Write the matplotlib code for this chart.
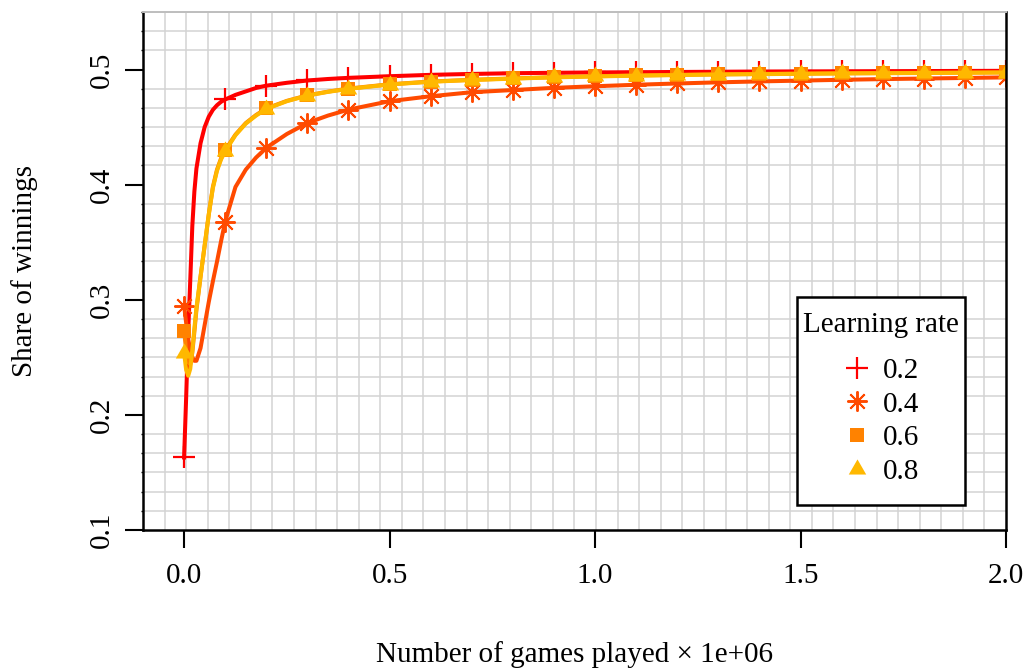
import numpy as np
import matplotlib
matplotlib.use("Agg")
import matplotlib.pyplot as plt
from matplotlib.lines import Line2D
from matplotlib.patches import Rectangle

plt.rcParams["font.family"] = ["Liberation Serif", "DejaVu Serif"]

# Number of games played (millions)
games = [0.0, 0.005, 0.01, 0.015, 0.02, 0.025, 0.03, 0.04, 0.05, 0.06, 0.07,
         0.08, 0.09, 0.1, 0.125, 0.15, 0.175, 0.2, 0.25, 0.3, 0.35, 0.4,
         0.5, 0.6, 0.7, 0.8, 0.9, 1.0, 1.1, 1.2, 1.3, 1.4, 1.5, 1.6, 1.7,
         1.8, 1.9, 2.0]

# Share of winnings for each learning rate
share_02 = [0.163, 0.215, 0.272, 0.317, 0.364, 0.394, 0.414, 0.436, 0.450,
            0.459, 0.465, 0.469, 0.472, 0.474, 0.478, 0.481, 0.484, 0.486,
            0.4885, 0.4905, 0.4918, 0.4928, 0.4942, 0.4954, 0.4962, 0.4968,
            0.4972, 0.4975, 0.4977, 0.4979, 0.4981, 0.4983, 0.4984, 0.4985,
            0.4986, 0.4987, 0.4988, 0.4989]
share_04 = [0.295, 0.280, 0.266, 0.256, 0.250, 0.247, 0.247, 0.258, 0.278,
            0.298, 0.316, 0.333, 0.351, 0.368, 0.398, 0.413, 0.4235, 0.432,
            0.444, 0.4536, 0.460, 0.4652, 0.4725, 0.4768, 0.4803, 0.4822,
            0.4841, 0.4855, 0.4868, 0.4879, 0.4889, 0.4897, 0.4904, 0.4911,
            0.4917, 0.4922, 0.4927, 0.4932]
share_06 = [0.273, 0.256, 0.246, 0.244, 0.254, 0.272, 0.291, 0.320, 0.347,
            0.374, 0.398, 0.413, 0.423, 0.430, 0.4435, 0.4535, 0.4605,
            0.4662, 0.4728, 0.4776, 0.4808, 0.4835, 0.4872, 0.4896, 0.4911,
            0.4923, 0.4934, 0.4942, 0.4949, 0.4954, 0.4959, 0.4962, 0.4965,
            0.4968, 0.4970, 0.4972, 0.4974, 0.4976]
share_08 = [0.254, 0.239, 0.234, 0.240, 0.256, 0.275, 0.293, 0.320, 0.347,
            0.374, 0.397, 0.412, 0.422, 0.429, 0.443, 0.453, 0.460, 0.4658,
            0.4725, 0.4774, 0.4806, 0.4832, 0.4870, 0.4894, 0.4909, 0.4921,
            0.4932, 0.4940, 0.4947, 0.4952, 0.4957, 0.4960, 0.4963, 0.4966,
            0.4968, 0.4970, 0.4972, 0.4974]

rates = ["0.2", "0.4", "0.6", "0.8"]
colors = ["#FF0000", "#FF4A00", "#FF8200", "#FFB800"]

x_ticks = [0.0, 0.5, 1.0, 1.5, 2.0]
y_ticks = [0.1, 0.2, 0.3, 0.4, 0.5]

FS = 21

# R-like plotting symbols: plus, asterisk, filled square, filled triangle
tri = [(0.0, 1.555), (1.347, -0.778), (-1.347, -0.778), (0.0, 1.555)]
symbols = [
    dict(marker="+", markersize=15.5, markeredgewidth=1.6),
    dict(marker=(8, 2, 0), markersize=14.5, markeredgewidth=1.4),
    dict(marker="s", markersize=9.5, markeredgewidth=0),
    dict(marker=tri, markersize=14.5, markeredgewidth=0),
]

W, H = 1030, 672
fig = plt.figure(figsize=(W / 100, H / 100), dpi=100)
ax = fig.add_axes([143 / W, 1 - 530 / H, (1006 - 143) / W, (530 - 12) / H])

xlim = (-0.1, 2.0)
ylim = (0.1, 0.55)
ax.set_xlim(*xlim)
ax.set_ylim(*ylim)

# fine background grid
ax.set_xticks(np.linspace(xlim[0], xlim[1], 41), minor=True)
ax.set_yticks(np.linspace(ylim[0], ylim[1], 28), minor=True)
ax.grid(which="minor", color="#D3D3D3", linewidth=1.1)
ax.grid(which="major", visible=False)
ax.set_axisbelow(True)

mark_idx = [i for i, g in enumerate(games) if abs(g * 10 - round(g * 10)) < 1e-9]

series = [share_02, share_04, share_06, share_08]
for vals, col, sym in zip(series, colors, symbols):
    ax.plot(games, vals, color=col, linewidth=2.9, markevery=mark_idx,
            markerfacecolor=col, markeredgecolor=col, solid_joinstyle="round",
            **sym)

ax.set_xticks(x_ticks)
ax.set_xticklabels([f"{v:.1f}" for v in x_ticks])
ax.set_yticks(y_ticks)
ax.set_yticklabels([f"{v:.1f}" for v in y_ticks], rotation=90, va="center")

ax.tick_params(which="major", direction="out", length=13, width=1.5,
               labelsize=FS, color="black")
ax.tick_params(axis="x", which="major", pad=11)
ax.tick_params(axis="y", which="major", pad=7)
ax.tick_params(axis="x", which="minor", length=0)
ax.tick_params(axis="y", which="minor", length=1.5, width=1.0)

for side in ["left", "bottom", "right"]:
    ax.spines[side].set_linewidth(1.8)
    ax.spines[side].set_color("black")
ax.spines["top"].set_color("#BEBEBE")
ax.spines["top"].set_linewidth(1.4)

fig.text(575 / W, 1 - 655 / H, "Number of games played \u00d7 1e+06",
         ha="center", va="center", fontsize=FS)
fig.text(25 / W, 1 - 271 / H, "Share of winnings", rotation=90,
         ha="center", va="center", fontsize=FS)

# legend box
ax.add_patch(Rectangle((797 / W, 1 - 505 / H), (965 - 797) / W, (505 - 297) / H,
                       transform=fig.transFigure, clip_on=False,
                       facecolor="white", edgecolor="black", linewidth=1.8,
                       zorder=4.5))

handles = [Line2D([], [], linestyle="none", color=c, markerfacecolor=c,
                  markeredgecolor=c, **s) for c, s in zip(colors, symbols)]
leg = ax.legend(handles, rates, title="Learning rate", fontsize=FS,
                title_fontsize=FS, loc="upper center",
                bbox_to_anchor=(881 / W, 1 - 312 / H),
                bbox_transform=fig.transFigure, frameon=False,
                borderpad=0, labelspacing=0.25, handlelength=1.0,
                handletextpad=0.39, alignment="center", borderaxespad=0)
leg.set_zorder(5)
leg._legend_box.sep = 14

fig.savefig("out.png", dpi=100)
